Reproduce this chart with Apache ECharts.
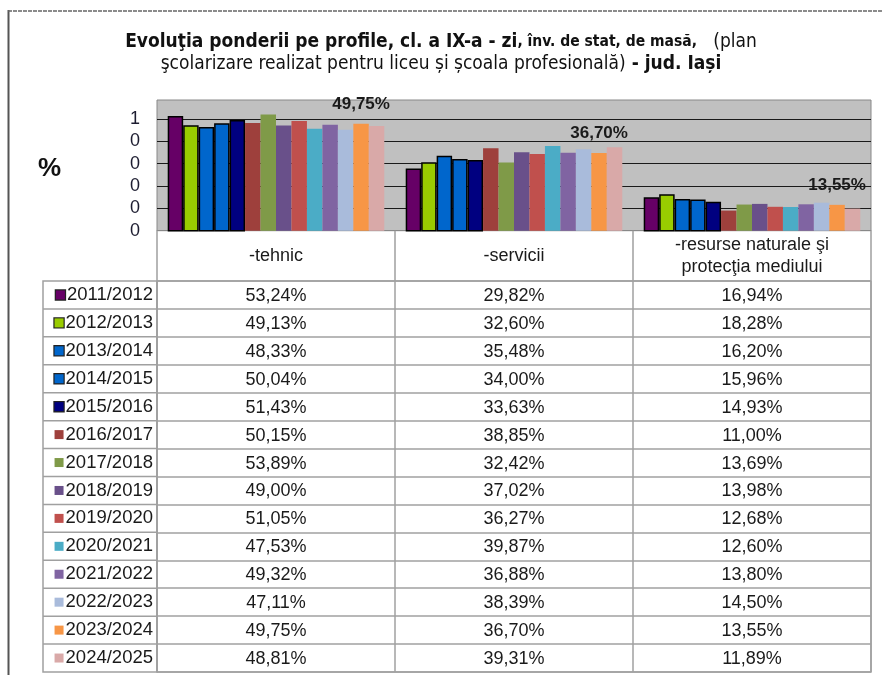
<!DOCTYPE html>
<html>
<head>
<meta charset="utf-8">
<script src="https://cdn.jsdelivr.net/npm/echarts@6/dist/echarts.min.js"></script>
<style>
html,body{margin:0;padding:0;background:#fff;}
#chart{width:882px;height:675px;}
</style>
</head>
<body>
<div id="chart"></div>
<script type="text/javascript">
// anii scolari (serii) si profilele (categorii)
var years = ['2011/2012','2012/2013','2013/2014','2014/2015','2015/2016','2016/2017','2017/2018',
	'2018/2019','2019/2020','2020/2021','2021/2022','2022/2023','2023/2024','2024/2025'];
var categories = ['-tehnic','-servicii','-resurse naturale şi\nprotecţia mediului'];
// ponderi (%) pe profile
var tehnic = [53.24,49.13,48.33,50.04,51.43,50.15,53.89,49.00,51.05,47.53,49.32,47.11,49.75,48.81];
var servicii = [29.82,32.60,35.48,34.00,33.63,38.85,32.42,37.02,36.27,39.87,36.88,38.39,36.70,39.31];
var resurse = [16.94,18.28,16.20,15.96,14.93,11.00,13.69,13.98,12.68,12.60,13.80,14.50,13.55,11.89];
var colors = ['#660066','#99cc00','#0066cc','#0066cc','#000080','#9e403c','#7f9a48',
	'#69508a','#c0504d','#4bacc6','#8064a2','#a9bbdb','#f79646','#d9a9a8'];
var labeledYear = '2023/2024';

var font = "'Liberation Sans', Arial, sans-serif";
var narrow = "'Liberation Sans Narrow', 'DejaVu Sans Condensed', 'Liberation Sans', sans-serif";

function pct(v){
	return v.toFixed(2).replace('.', ',') + '%';
}

// coloanele tabelului
var cols = [tehnic, servicii, resurse];

var series = [];
for (var i = 0; i < years.length; i++) {
	var bordered = i < 5;
	series.push({
		name: years[i],
		type: 'bar',
		xAxisIndex: 0,
		yAxisIndex: 0,
		barGap: 0,
		barCategoryGap: '9%',
		data: [tehnic[i], servicii[i], resurse[i]],
		itemStyle: {
			color: colors[i],
			borderColor: bordered ? '#000' : colors[i],
			borderWidth: bordered ? 1.5 : 0
		},
		label: {
			show: years[i] == labeledYear,
			position: 'top',
			distance: 11,
			color: '#1a1a1a',
			fontFamily: font,
			fontWeight: 'bold',
			fontSize: 17,
			formatter: function(p){ return pct(p.value); }
		}
	});
}

// celulele tabelului
var cells = [];
for (var c = 0; c < cols.length; c++) {
	for (var i = 0; i < years.length; i++) {
		cells.push([c, i, cols[c][i]]);
	}
}
series.push({
	type: 'custom',
	xAxisIndex: 1,
	yAxisIndex: 1,
	data: cells,
	renderItem: function(params, api){
		var p = api.coord([api.value(0), api.value(1)]);
		return {
			type: 'text',
			x: p[0],
			y: p[1] + 1,
			style: {
				text: pct(api.value(2)),
				textAlign: 'center',
				textVerticalAlign: 'middle',
				font: '18px ' + font,
				fill: '#1a1a1a'
			}
		};
	}
});

// legenda din tabel
var rich = { t: { fontSize: 18.5, fontFamily: font, color: '#1a1a1a', padding: [0,0,0,2] } };
for (var i = 0; i < years.length; i++) {
	rich['s' + i] = {
		width: 9, height: 9,
		backgroundColor: colors[i],
		borderColor: i < 5 ? '#222' : colors[i],
		borderWidth: i < 5 ? 1.2 : 0
	};
}

var gridLeft = 157, gridRight = 871, tabTop = 281, tabBottom = 672, legLeft = 43;
var rowH = (tabBottom - tabTop) / years.length;
var graphics = [
	{ type: 'line', shape: { x1: 8.5, y1: 10, x2: 8.5, y2: 675 }, style: { stroke: '#555', lineWidth: 2 } },
	{ type: 'line', shape: { x1: 8, y1: 11, x2: 882, y2: 11 }, style: { stroke: '#666', lineWidth: 1.5, lineDash: [4, 1] } },
	{ type: 'text', left: 38, top: 156, style: { text: '%', font: 'bold 26px ' + font, fill: '#111' } },
	{ type: 'rect', shape: { x: legLeft, y: tabTop, width: gridLeft - legLeft, height: tabBottom - tabTop },
		style: { fill: 'none', stroke: '#a0a0a0', lineWidth: 1.5 } }
];
for (var i = 1; i < years.length; i++) {
	var yy = tabTop + rowH * i;
	graphics.push({ type: 'line', shape: { x1: legLeft, y1: yy, x2: gridLeft, y2: yy },
		style: { stroke: '#a0a0a0', lineWidth: 1.5 } });
}

var myChart = echarts.init(document.getElementById('chart'));
var option = {
	backgroundColor: '#fff',
	animation: false,
	title: {
		left: 'center',
		top: 26,
		text: '{b|Evoluţia ponderii pe profile, cl. a IX-a - zi}{bs|, înv. de stat, de masă,}{n|   (plan}\n{n|şcolarizare realizat pentru liceu și școala profesională)}{b| - jud. Iași}',
		textStyle: {
			rich: {
				b: { fontFamily: narrow, fontWeight: 'bold', fontSize: 19, color: '#111', lineHeight: 22 },
				bs: { fontFamily: narrow, fontWeight: 'bold', fontSize: 15.5, color: '#111', lineHeight: 22 },
				n: { fontFamily: narrow, fontWeight: 'normal', fontSize: 19, color: '#111', lineHeight: 22 }
			}
		}
	},
	graphic: graphics,
	grid: [
		{ left: gridLeft, right: 882 - gridRight, top: 100, height: 130.7,
			show: true, backgroundColor: '#c0c0c0', borderColor: '#888', borderWidth: 1 },
		{ left: gridLeft, right: 882 - gridRight, top: tabTop, height: tabBottom - tabTop,
			show: true, backgroundColor: 'transparent', borderColor: '#a0a0a0', borderWidth: 1.5 }
	],
	xAxis: [
		{
			type: 'category',
			gridIndex: 0,
			data: categories,
			axisLine: { show: true, lineStyle: { color: '#888', width: 1 } },
			axisTick: { show: true, length: 50, lineStyle: { color: '#a0a0a0', width: 1.5 } },
			axisLabel: {
				interval: 0,
				margin: 25.5,
				verticalAlign: 'middle',
				fontFamily: font,
				fontSize: 18,
				lineHeight: 22,
				color: '#1a1a1a'
			}
		},
		{
			type: 'category',
			gridIndex: 1,
			data: categories,
			axisLine: { show: false },
			axisTick: { show: false },
			axisLabel: { show: false },
			splitLine: { show: true, lineStyle: { color: '#a0a0a0', width: 1.5 } }
		}
	],
	yAxis: [
		{
			type: 'value',
			gridIndex: 0,
			min: 2,
			max: 60.4,
			interval: 10,
			axisLine: { show: false },
			axisTick: { show: false },
			splitLine: { show: true, showMaxLine: false, showMinLine: false, lineStyle: { color: '#1a1a1a', width: 1 } },
			axisLabel: {
				showMaxLabel: false,
				margin: 17,
				fontFamily: font,
				fontSize: 18,
				color: '#1c1c30',
				formatter: function(v){ return String(Math.round(v / 100)); }
			}
		},
		{
			type: 'category',
			gridIndex: 1,
			inverse: true,
			data: years,
			axisLine: { show: false },
			axisTick: { show: false },
			splitLine: { show: true, lineStyle: { color: '#a0a0a0', width: 1.5 } },
			axisLabel: {
				margin: 4,
				formatter: function(v, idx){ return '{s' + idx + '|}{t|' + v + '}'; },
				rich: rich
			}
		}
	],
	series: series
};
myChart.setOption(option);
</script>
</body>
</html>
